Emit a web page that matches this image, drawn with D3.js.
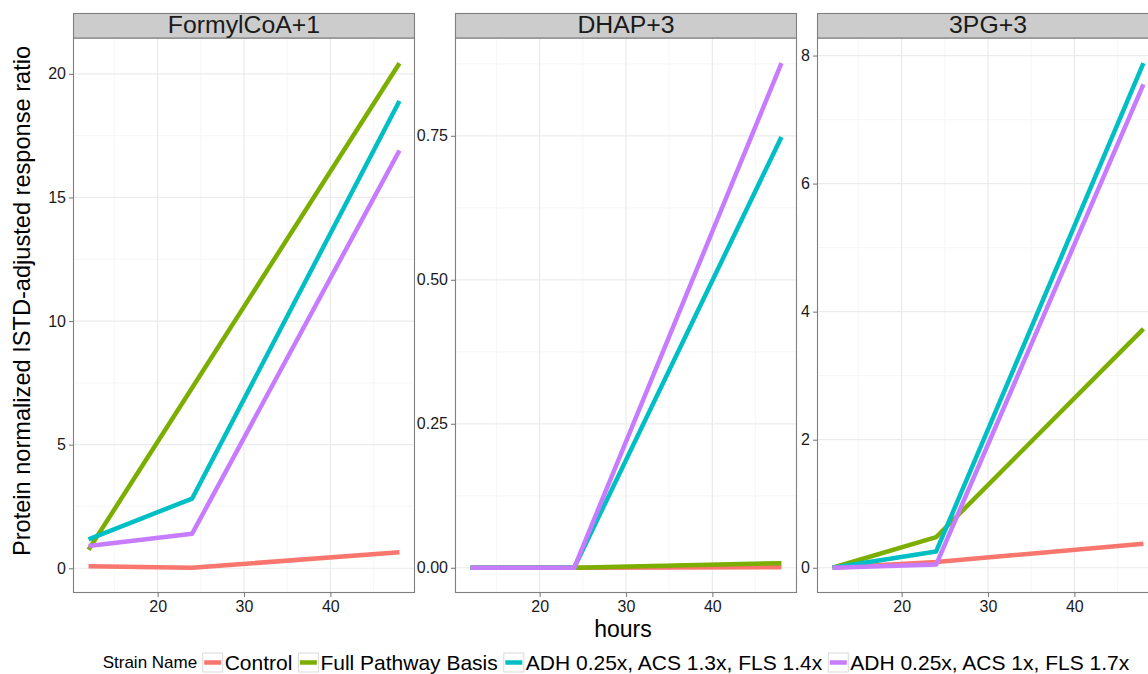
<!DOCTYPE html>
<html><head><meta charset="utf-8">
<script src="https://cdn.jsdelivr.net/npm/d3@7"></script>
<style>body{margin:0;background:#fff} svg{display:block;font-family:"Liberation Sans",Arial,Helvetica,sans-serif}</style>
</head><body><svg id="c" width="1148" height="674"></svg>
<script>
const hours=[12,24,48];
const metabolites=["FormylCoA+1","DHAP+3","3PG+3"];
const strainNames=["Control","Full Pathway Basis","ADH 0.25x, ACS 1.3x, FLS 1.4x","ADH 0.25x, ACS 1x, FLS 1.7x"];
const strainColors=["#F8766D","#7CAE00","#00BFC4","#C77CFF"];
// values per metabolite (rows) at hours 12, 24, 48
const controlValues=[[0.08,0.02,0.65],[0,0,0.001],[0,0.09,0.375]];
const fullPathwayValues=[[0.75,7.3,20.43],[0,0,0.008],[0,0.48,3.73]];
const adhAcs13Values=[[1.17,2.82,18.9],[0,0,0.748],[0,0.255,7.88]];
const adhAcs1Values=[[0.9,1.4,16.9],[0,0,0.876],[0,0.05,7.55]];
const xTicks=[20,30,40];
const xMinor=[15,25,35,45];
const yTicks=[[0,5,10,15,20],[0,0.25,0.5,0.75],[0,2,4,6,8]];
const yMinor=[[2.5,7.5,12.5,17.5],[0.125,0.375,0.625,0.875],[1,3,5,7]];
const yFormats=[d3.format("d"),d3.format(".2f"),d3.format("d")];

const seriesValues=[controlValues,fullPathwayValues,adhAcs13Values,adhAcs1Values];
const svg=d3.select("#c");
const panelLefts=[73,455,817], panelW=342, pTop=38, pBottom=593, stripTop=13;

function expand(ext){const r=ext[1]-ext[0];return [ext[0]-0.05*r, ext[1]+0.05*r];}

metabolites.forEach((m,i)=>{
  const x0=panelLefts[i];
  const x=d3.scaleLinear().domain(expand(d3.extent(hours))).range([x0,x0+panelW]);
  const all=seriesValues.flatMap(s=>s[i]);
  const y=d3.scaleLinear().domain(expand(d3.extent(all))).range([pBottom,pTop]);
  const g=svg.append("g");
  g.append("rect").attr("x",x0).attr("y",pTop).attr("width",panelW).attr("height",pBottom-pTop).attr("fill","#fff");
  g.selectAll(null).data(xMinor).join("line").attr("x1",d=>x(d)).attr("x2",d=>x(d)).attr("y1",pTop).attr("y2",pBottom).attr("stroke","#f7f7f7").attr("stroke-width",1.2);
  g.selectAll(null).data(yMinor[i]).join("line").attr("y1",d=>y(d)).attr("y2",d=>y(d)).attr("x1",x0).attr("x2",x0+panelW).attr("stroke","#f7f7f7").attr("stroke-width",1.2);
  g.selectAll(null).data(xTicks).join("line").attr("x1",d=>x(d)).attr("x2",d=>x(d)).attr("y1",pTop).attr("y2",pBottom).attr("stroke","#ebebeb").attr("stroke-width",1.2);
  g.selectAll(null).data(yTicks[i]).join("line").attr("y1",d=>y(d)).attr("y2",d=>y(d)).attr("x1",x0).attr("x2",x0+panelW).attr("stroke","#ebebeb").attr("stroke-width",1.2);
  const line=d3.line().x((d,k)=>x(hours[k])).y(d=>y(d));
  seriesValues.forEach((s,j)=>{
    g.append("path").attr("d",line(s[i])).attr("fill","none").attr("stroke",strainColors[j]).attr("stroke-width",4.5).attr("stroke-linejoin","round");
  });
  g.append("rect").attr("x",x0+0.5).attr("y",pTop).attr("width",panelW-1).attr("height",pBottom-pTop-0.5).attr("fill","none").attr("stroke","#7f7f7f").attr("stroke-width",1.1);
  g.append("rect").attr("x",x0+0.5).attr("y",stripTop+0.5).attr("width",panelW-1).attr("height",pTop-stripTop-0.5).attr("fill","#cccccc").attr("stroke","#7f7f7f").attr("stroke-width",1.1);
  g.append("text").attr("x",x0+panelW/2).attr("y",pTop-5).attr("text-anchor","middle").attr("font-size",24.8).attr("fill","#1a1a1a").text(m);
  const xa=svg.append("g").attr("transform",`translate(0,${pBottom})`).call(d3.axisBottom(x).tickValues(xTicks).tickSize(4).tickPadding(4));
  const ya=svg.append("g").attr("transform",`translate(${x0},0)`).call(d3.axisLeft(y).tickValues(yTicks[i]).tickFormat(yFormats[i]).tickSize(4).tickPadding(3));
  [xa,ya].forEach(a=>{a.select(".domain").remove();a.selectAll(".tick line").attr("stroke","#7f7f7f").attr("stroke-width",1.1);
    a.selectAll(".tick text").attr("font-size",16).attr("fill","#1a1a1a").attr("font-family","Liberation Sans, Arial, sans-serif");});
});

svg.append("text").attr("transform","translate(30,301) rotate(-90)").attr("text-anchor","middle").attr("font-size",23.6).attr("fill","#000").text("Protein normalized ISTD-adjusted response ratio");
svg.append("text").attr("x",623).attr("y",637).attr("text-anchor","middle").attr("font-size",23).attr("fill","#000").text("hours");

const lg=svg.append("g");
let cx=102.7;
const title=lg.append("text").attr("x",cx).attr("y",668).attr("font-size",17).attr("fill","#000").text("Strain Name");
cx+=title.node().getComputedTextLength()+5;
strainNames.forEach((n,j)=>{
  lg.append("rect").attr("x",cx+0.5).attr("y",653).attr("width",20).attr("height",19).attr("fill","#fff").attr("stroke","#d9d9d9").attr("stroke-width",1);
  lg.append("line").attr("x1",cx+2).attr("x2",cx+19).attr("y1",662.5).attr("y2",662.5).attr("stroke",strainColors[j]).attr("stroke-width",4.5);
  cx+=22.5;
  const t=lg.append("text").attr("x",cx).attr("y",670).attr("font-size",21).attr("fill","#000").text(n);
  cx+=t.node().getComputedTextLength()+5.5;
});
</script></body></html>
